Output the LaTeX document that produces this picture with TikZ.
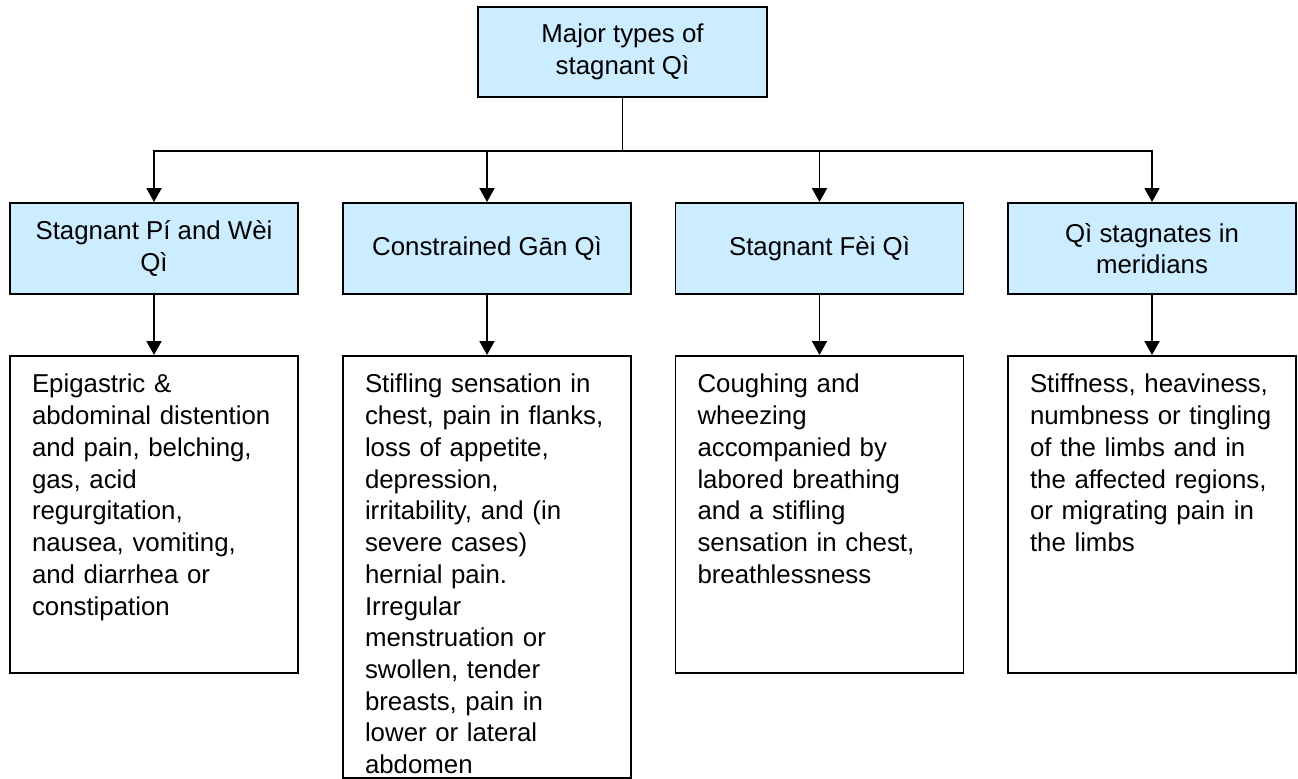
\documentclass[tikz,border=0pt]{standalone}
\usepackage{fontspec}
\setmainfont{Liberation Sans}
\usetikzlibrary{positioning, arrows.meta, calc}
\definecolor{BlueB}{HTML}{CCECFF}
\tikzset{
  head/.style={draw, line width=1.1pt, fill=BlueB, align=center,
               minimum width=5.76cm, minimum height=1.82cm, inner sep=4pt},
  symp/.style={draw, line width=1.1pt, fill=white, anchor=north, align=left,
               text width=4.88cm, inner xsep=0.44cm, inner ysep=0.24cm,
               text height=0.5cm},
  arr/.style={-{Triangle[length=0.28cm, width=0.3cm]}, line width=1.1pt},
}

\begin{document}
\begin{tikzpicture}[font=\fontsize{14.7}{18.05}\selectfont]
  \useasboundingbox (0,0) rectangle (25.96,-15.56);

  % ---- root ----
  \node[head, minimum width=5.78cm, minimum height=1.8cm] (root) at (12.45,-1.04)
       {Major types of\\stagnant Qì};

  % ---- the four types ----
  \node[head] (t1) at (3.08,-4.97)  {Stagnant Pí and Wèi\\Qì};
  \node[head] (t2) at (9.74,-4.97)  {Constrained Gān Qì};
  \node[head] (t3) at (16.39,-4.97) {Stagnant Fèi Qì};
  \node[head] (t4) at (23.04,-4.97) {Qì stagnates in\\meridians};

  % ---- symptoms ----
  \node[symp, text depth=5.36cm] (s1) at (3.08,-7.1)
       {Epigastric \&\\abdominal distention\\and pain, belching,\\gas, acid\\regurgitation,\\nausea, vomiting,\\and diarrhea or\\constipation};
  \node[symp, text depth=7.46cm] (s2) at (9.74,-7.1)
       {Stifling sensation in\\chest, pain in flanks,\\loss of appetite,\\depression,\\irritability, and (in\\severe cases)\\hernial pain.\\Irregular\\menstruation or\\swollen, tender\\breasts, pain in\\lower or lateral\\abdomen};
  \node[symp, text depth=5.36cm] (s3) at (16.39,-7.1)
       {Coughing and\\wheezing\\accompanied by\\labored breathing\\and a stifling\\sensation in chest,\\breathlessness};
  \node[symp, text depth=5.36cm] (s4) at (23.04,-7.1)
       {Stiffness, heaviness,\\numbness or tingling\\of the limbs and in\\the affected regions,\\or migrating pain in\\the limbs};

  % ---- connectors ----
  \coordinate (split) at ($(root.south)+(0,-1.06)$);
  \foreach \i in {1,...,4} {
    \draw[arr] (root.south) -- (split) -| (t\i.north);
    \draw[arr] (t\i.south) -- (s\i.north);
  }
\end{tikzpicture}
\end{document}
